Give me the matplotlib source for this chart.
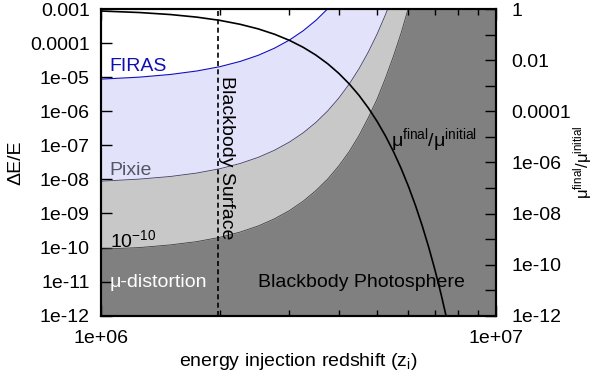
import numpy as np
import matplotlib
matplotlib.use("Agg")
import matplotlib.pyplot as plt
from matplotlib.ticker import FixedLocator, NullFormatter, LogLocator

plt.rcParams['font.family'] = ['Liberation Sans', 'DejaVu Sans']
plt.rcParams['mathtext.fontset'] = 'custom'
plt.rcParams['mathtext.rm'] = 'Liberation Sans'
plt.rcParams['mathtext.it'] = 'Liberation Sans:italic'

# energy injection redshift grid (units of 1e6)
z = [1.0, 1.25, 1.5, 1.75, 2.0, 2.25, 2.5, 2.75, 3.0, 3.25, 3.5, 3.75,
     4.0, 4.25, 4.5, 4.75, 5.0, 5.25, 5.5, 5.75, 6.0, 6.25, 6.5, 6.75,
     7.0, 7.25, 7.5, 7.75]

# dE/E limits
firas = [8.75e-6, 1.0e-5, 1.2e-5, 1.52e-5, 2.03e-5, 2.89e-5, 4.37e-5, 7.09e-5,
         1.23e-4, 2.30e-4, 4.65e-4, 1.02e-3, 2.4e-3]
pixie = [8.87e-9, 1.02e-8, 1.22e-8, 1.54e-8, 2.06e-8, 2.93e-8, 4.43e-8, 7.18e-8,
         1.25e-7, 2.33e-7, 4.71e-7, 1.03e-6, 2.45e-6, 6.32e-6, 1.78e-5, 5.52e-5,
         1.86e-4, 6.92e-4, 2.85e-3]
floor10 = [9.0e-11, 1.0e-10, 1.2e-10, 1.5e-10, 2.0e-10, 2.85e-10, 4.3e-10, 7.0e-10,
           1.22e-9, 2.3e-9, 4.7e-9, 1.03e-8, 2.5e-8, 6.6e-8, 1.95e-7, 6.5e-7,
           2.3e-6, 9.5e-6, 4.2e-5, 2.0e-4, 1.1e-3]

# mu_final / mu_initial (right axis)
mu_ratio = [0.834, 0.729, 0.607, 0.480, 0.359, 0.2525, 0.167, 0.103, 0.0593,
            0.0317, 0.0157, 7.18e-3, 3.02e-3, 1.17e-3, 4.15e-4, 1.34e-4, 3.97e-5,
            1.07e-5, 2.6e-6, 5.74e-7, 1.14e-7, 2.05e-8, 3.3e-9, 4.8e-10, 6.2e-11,
            7.2e-12, 7.4e-13, 6.9e-14]

z_surface = 1.98e6

zz = np.array(z) * 1e6
fs = 14

fig = plt.figure(figsize=(6, 3.75), dpi=100)
ax = fig.add_axes([0.168, 0.158, 0.659, 0.818])
ax.set_facecolor('#808080')
ax.set_xscale('log')
ax.set_yscale('log')
ax.set_xlim(1e6, 1e7)
ax.set_ylim(1e-12, 1e-3)

ax.fill_between(zz[:len(floor10)], floor10, 1.0, color='#c8c8c8', lw=0)
ax.fill_between(zz[:len(pixie)], pixie, 1.0, color='#e2e2fa', lw=0)
ax.fill_between(zz[:len(firas)], firas, 1.0, color='white', lw=0)
ax.plot(zz[:len(floor10)], floor10, color='#404040', lw=0.6)
ax.plot(zz[:len(pixie)], pixie, color='#404060', lw=0.6)
ax.plot(zz[:len(firas)], firas, color='#1010c0', lw=0.8)

ax.axvline(z_surface, color='black', ls=(0, (3, 2)), lw=1.2)

ax.text(1.054e6, 2.1e-5, 'FIRAS', color='#1010b0', fontsize=fs, va='center')
ax.text(1.054e6, 1.85e-8, 'Pixie', color='#555566', fontsize=fs, va='center')
ax.text(1.054e6, 1.05e-10, r'10$^{-10}$', color='black', fontsize=fs, va='baseline')
ax.text(1.054e6, 9.3e-12, 'μ-distortion', color='white', fontsize=fs, va='center')
ax.text(2.5e6, 9.3e-12, 'Blackbody Photosphere', color='black', fontsize=fs, va='center')
ax.text(2.085e6, 4.2e-8, 'Blackbody Surface', color='black', fontsize=fs,
        rotation=-90, ha='center', va='center')
ax.text(5.42e6, 1.4e-7, r'μ$^{\rm final}$/μ$^{\rm initial}$', color='black',
        fontsize=fs, va='center')

ax.set_yticks([10.0 ** e for e in range(-12, -2)])
ax.set_yticklabels(['1e-12', '1e-11', '1e-10', '1e-09', '1e-08', '1e-07',
                    '1e-06', '1e-05', '0.0001', '0.001'])
ax.yaxis.set_minor_locator(FixedLocator([]))
ax.set_xticks([1e6, 1e7])
ax.set_xticklabels(['1e+06', '1e+07'])
ax.xaxis.set_minor_locator(LogLocator(base=10, subs=np.arange(2, 10), numticks=20))
ax.xaxis.set_minor_formatter(NullFormatter())
ax.tick_params(which='both', direction='in', top=True, labelsize=fs)
ax.tick_params(axis='y', which='major', length=8, width=1.0, right=False, pad=8)
ax.tick_params(axis='x', which='major', length=8, width=1.0, pad=10)
ax.tick_params(axis='x', which='minor', length=4, width=1.0)
ax.set_xlabel('energy injection redshift (z$_{\\rm i}$)', fontsize=fs, labelpad=3)
ax.set_ylabel('ΔE/E', fontsize=fs, labelpad=4)
for s in ax.spines.values():
    s.set_linewidth(1.5)

ax2 = ax.twinx()
ax2.set_yscale('log')
ax2.set_ylim(1e-12, 1)
ax2.plot(zz, mu_ratio, color='black', lw=1.2)
ax2.set_yticks([10.0 ** e for e in range(-12, 1)])
ax2.set_yticklabels(['1e-12', '', '1e-10', '', '1e-08', '', '1e-06', '',
                     '0.0001', '', '0.01', '', '1'])
ax2.yaxis.set_minor_locator(FixedLocator([]))
ax2.tick_params(axis='y', direction='in', length=8, width=1.0, labelsize=fs, pad=11)
ax2.set_ylabel(r'μ$^{\rm final}$/μ$^{\rm initial}$', fontsize=12)
ax2.yaxis.set_label_coords(1.19, 0.5)
for s in ax2.spines.values():
    s.set_linewidth(1.5)

fig.savefig('out.png', dpi=100)
